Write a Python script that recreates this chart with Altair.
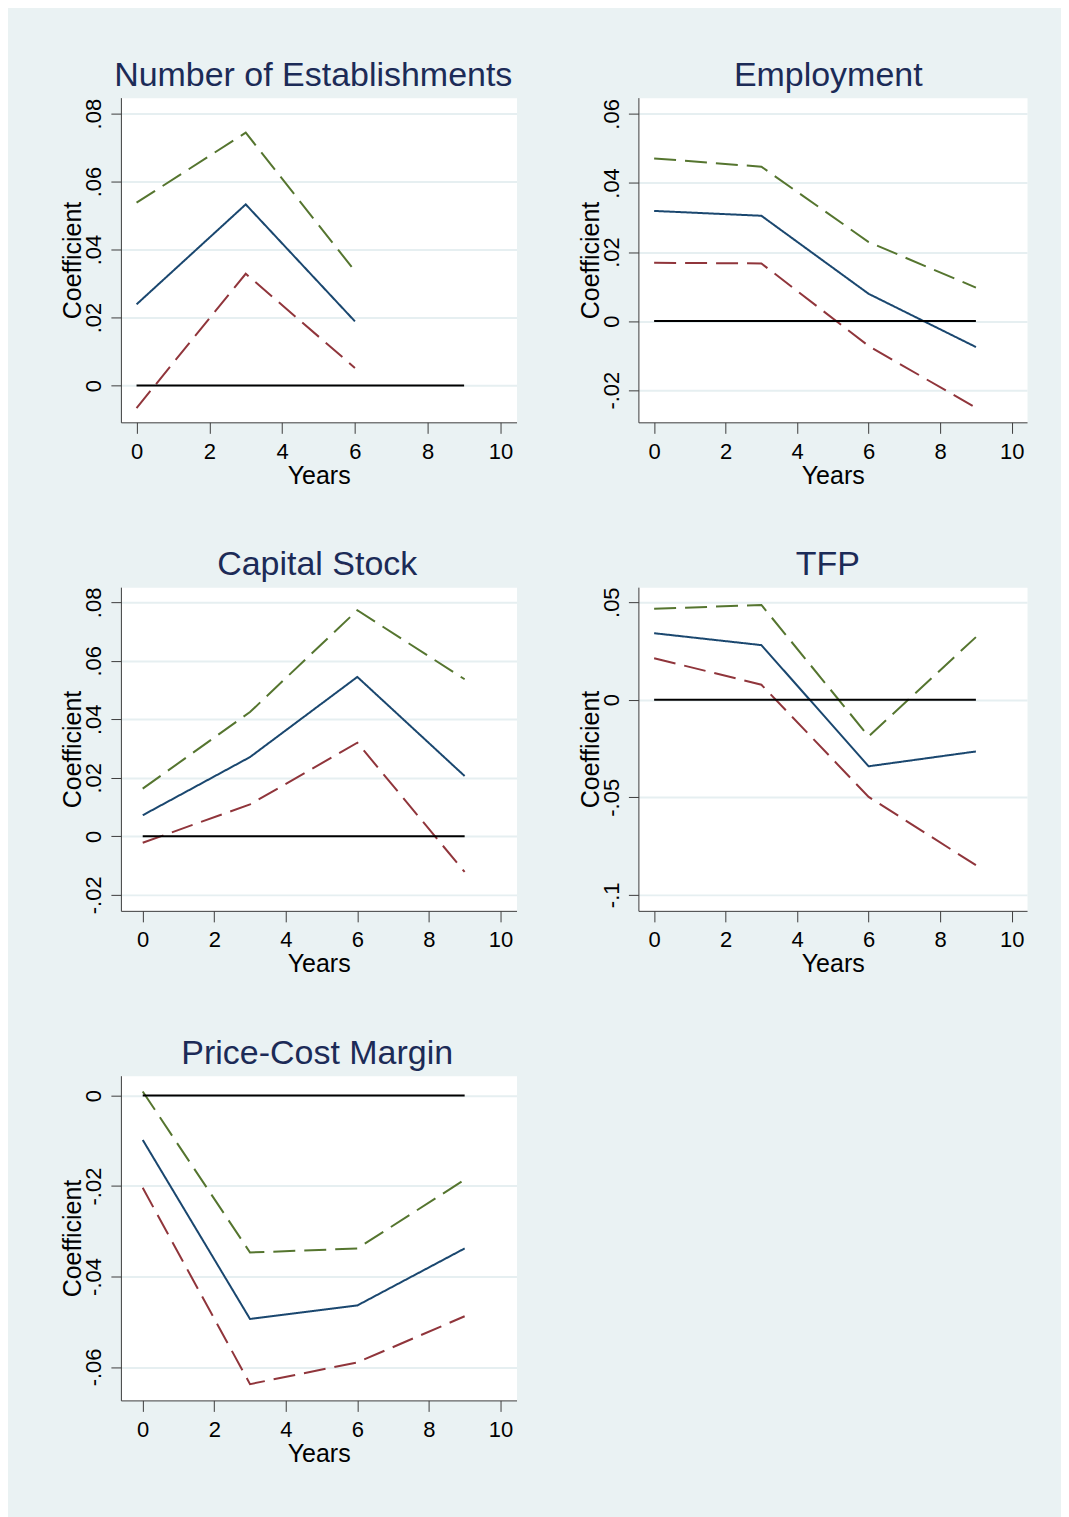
import altair as alt
import pandas as pd

# ---------------- data ----------------
TITLES = ["Number of Establishments", "Employment", "Capital Stock", "TFP", "Price-Cost Margin"]

X_TICKS = [0, 2, 4, 6, 8, 10]
X_DOMAINS = [
    [-0.43, 10.44],
    [-0.44, 10.43],
    [-0.61, 10.45],
    [-0.44, 10.43],
    [-0.61, 10.45],
]
ZERO_YEARS = [0, 9]
ZERO_VALUES = [0.0, 0.0]

YEARS_EST = [0, 3, 6]
YEARS = [0, 3, 6, 9]

est_coef = [0.0239, 0.0533, 0.0189]
est_upper = [0.0538, 0.0744, 0.0337]
est_lower = [-0.0066, 0.0329, 0.0052]

emp_coef = [0.0319, 0.0305, 0.0079, -0.0075]
emp_upper = [0.0471, 0.0447, 0.0229, 0.0097]
emp_lower = [0.0169, 0.0167, -0.0072, -0.0251]

cap_coef = [0.0072, 0.0271, 0.0545, 0.0206]
cap_upper = [0.0163, 0.0425, 0.0773, 0.0537]
cap_lower = [-0.0022, 0.0109, 0.0320, -0.0122]

tfp_coef = [0.0341, 0.0280, -0.0341, -0.0265]
tfp_upper = [0.0466, 0.0486, -0.0188, 0.0321]
tfp_lower = [0.0213, 0.0077, -0.0498, -0.0848]

pcm_coef = [-0.0098, -0.0494, -0.0464, -0.0338]
pcm_upper = [0.0009, -0.0347, -0.0338, -0.0186]
pcm_lower = [-0.0204, -0.0638, -0.0590, -0.0488]

Y_DOMAINS = [
    [-0.0108, 0.0847],
    [-0.0293, 0.0647],
    [-0.0255, 0.0852],
    [-0.1082, 0.0577],
    [-0.0674, 0.0044],
]
Y_TICKS = [
    [0, 0.02, 0.04, 0.06, 0.08],
    [-0.02, 0, 0.02, 0.04, 0.06],
    [-0.02, 0, 0.02, 0.04, 0.06, 0.08],
    [-0.1, -0.05, 0, 0.05],
    [-0.06, -0.04, -0.02, 0],
]

SERIES = ["coef", "upper", "lower"]

# ---------------- style ----------------
FONT = "Liberation Sans"
BG = "#EAF2F3"
GRID = "#E6EFF1"
BLUE = "#1A476F"
RED = "#90353B"
GREEN = "#55752F"
TITLE_COLOR = "#1C2B57"
AXIS_COLOR = "#3C3C3C"

LABEL_EXPR = ("datum.value == 0 ? '0' : (datum.value < 0 ? '-' : '') + "
              "replace(format(abs(datum.value), '.2~f'), '0.', '.')")


def panel(title, years, coef, upper, lower, xdom, ydom, yticks, w, h, dx):
    n = len(years)
    df = pd.DataFrame({
        "Years": list(years) * 3,
        "Coefficient": list(coef) + list(upper) + list(lower),
        "Series": ["coef"] * n + ["upper"] * n + ["lower"] * n,
    })
    zdf = pd.DataFrame({"Years": ZERO_YEARS, "Coefficient": ZERO_VALUES})
    xenc = alt.X("Years:Q",
                 scale=alt.Scale(domain=xdom, nice=False, zero=False),
                 axis=alt.Axis(values=X_TICKS, title="Years", titleX=w / 2, titleY=61))
    yenc = alt.Y("Coefficient:Q",
                 scale=alt.Scale(domain=ydom, nice=False, zero=False),
                 axis=alt.Axis(values=yticks, labelExpr=LABEL_EXPR, title="Coefficient",
                               titleX=-40, titleY=h / 2))
    lines = alt.Chart(df).mark_line(strokeWidth=2).encode(
        x=xenc,
        y=yenc,
        color=alt.Color("Series:N",
                        scale=alt.Scale(domain=SERIES, range=[BLUE, GREEN, RED]),
                        legend=None),
        strokeDash=alt.StrokeDash("Series:N",
                                  scale=alt.Scale(domain=SERIES,
                                                  range=[[1, 0], [22, 9], [22, 9]]),
                                  legend=None),
    )
    zero = alt.Chart(zdf).mark_line(color="black", strokeWidth=2).encode(x=xenc, y=yenc)
    return alt.layer(lines, zero).properties(
        width=w, height=h,
        title=alt.TitleParams(text=title, font=FONT, fontSize=34, fontWeight="normal",
                              color=TITLE_COLOR, anchor="middle", frame="group",
                              baseline="alphabetic", offset=-22, dx=dx),
    )


p1 = panel(TITLES[0], YEARS_EST, est_coef, est_upper, est_lower, X_DOMAINS[0],
           Y_DOMAINS[0], Y_TICKS[0], 396, 325, -5.5)
p2 = panel(TITLES[1], YEARS, emp_coef, emp_upper, emp_lower, X_DOMAINS[1],
           Y_DOMAINS[1], Y_TICKS[1], 389, 325, -4.5)
p3 = panel(TITLES[2], YEARS, cap_coef, cap_upper, cap_lower, X_DOMAINS[2],
           Y_DOMAINS[2], Y_TICKS[2], 396, 324, -1.5)
p4 = panel(TITLES[3], YEARS, tfp_coef, tfp_upper, tfp_lower, X_DOMAINS[3],
           Y_DOMAINS[3], Y_TICKS[3], 389, 324, -5)
p5 = panel(TITLES[4], YEARS, pcm_coef, pcm_upper, pcm_lower, X_DOMAINS[4],
           Y_DOMAINS[4], Y_TICKS[4], 396, 325, -1.5)

chart = alt.concat(
    p1, p2, p3, p4, p5, columns=2,
    spacing={"row": 165, "column": 122}, bounds="flush",
).properties(
    padding={"left": 52, "top": 49, "right": 33, "bottom": 50},
    background=BG,
).configure_view(
    fill="white", stroke="transparent",
).configure_axis(
    labelFont=FONT, labelFontSize=22, labelColor="black",
    titleFont=FONT, titleFontSize=25, titleFontWeight="normal", titleColor="black",
    domainColor=AXIS_COLOR, tickColor=AXIS_COLOR, domainWidth=1, tickWidth=1,
    labelFlush=False, labelOverlap=False,
    titleAlign="center", titleBaseline="alphabetic",
).configure_axisX(
    grid=False, tickSize=11, labelAngle=0, labelAlign="center",
    labelBaseline="alphabetic", labelPadding=25, titleAngle=0,
).configure_axisY(
    grid=True, gridColor=GRID, gridWidth=2, tickSize=10,
    labelAngle=270, labelAlign="center", labelBaseline="alphabetic", labelPadding=10,
    titleAngle=270,
)

chart.save("out.html", embed_options={"renderer": "svg", "actions": False})
